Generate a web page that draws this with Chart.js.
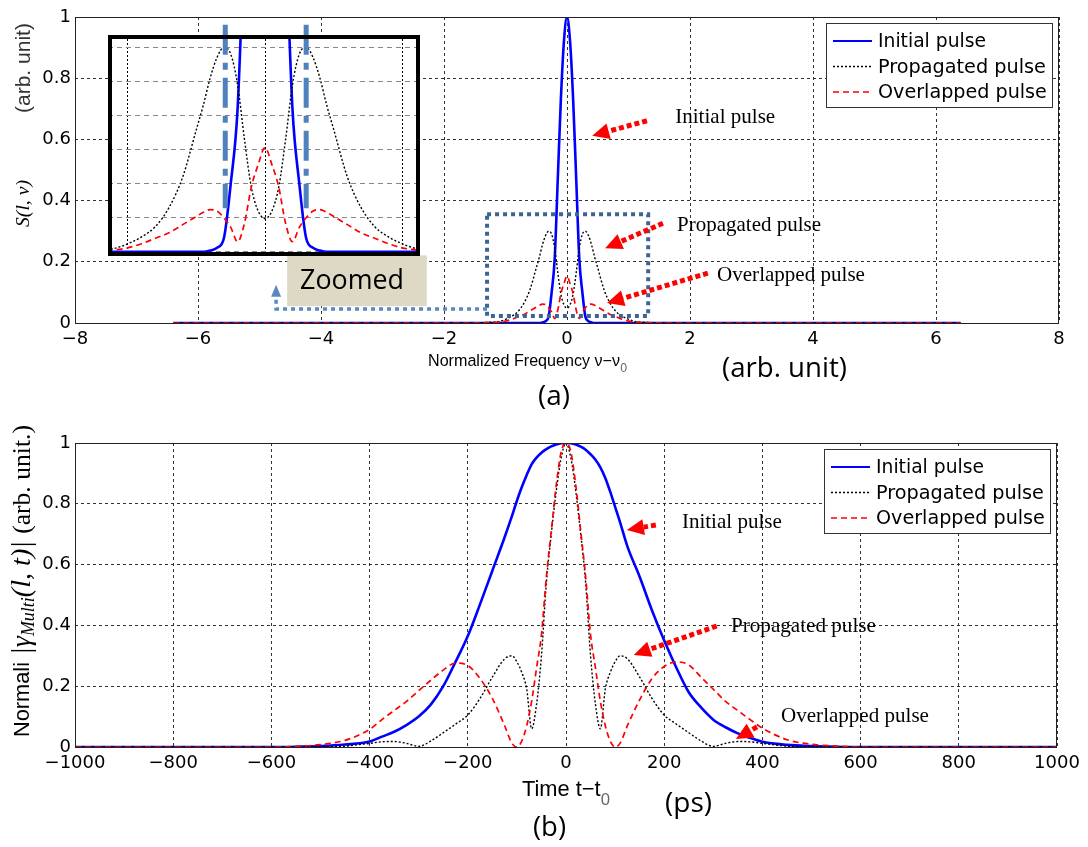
<!DOCTYPE html>
<html>
<head>
<meta charset="utf-8">
<script src="https://cdn.jsdelivr.net/npm/chart.js@4.4.1/dist/chart.umd.min.js"></script>
<style>
  html, body { margin: 0; padding: 0; background: #fff; }
  #page { position: relative; width: 1088px; height: 847px; overflow: hidden; background: #fff; }
  #page canvas { position: absolute; }
  #spectrum { left: 0; top: 0; }
  #inset { left: 104px; top: 23px; }
  #coherence { left: 0; top: 410px; }
</style>
</head>
<body>
<div id="page">
  <canvas id="spectrum" width="1088" height="410"></canvas>
  <canvas id="inset" width="320" height="237"></canvas>
  <canvas id="coherence" width="1088" height="437"></canvas>
</div>
<script>
// ---------- (a) spectrum S(l, nu) ----------
const FREQ = [-6.4, -1.6, -1.3, -1.1, -1.0, -0.9, -0.8, -0.7, -0.6, -0.5, -0.45, -0.4, -0.35, -0.3, -0.25, -0.2, -0.15, -0.1, -0.05,
  0, 0.05, 0.1, 0.15, 0.2, 0.25, 0.3, 0.35, 0.4, 0.45, 0.5, 0.6, 0.7, 0.8, 0.9, 1.0, 1.1, 1.3, 1.6, 6.4];
const S_INITIAL = [0, 0, 0, 0, 0, 0, 0, 0, 0, 0, 0, 0.002, 0.006, 0.02, 0.1, 0.21, 0.47, 0.73, 0.92,
  1, 0.92, 0.73, 0.47, 0.21, 0.1, 0.02, 0.006, 0.002, 0, 0, 0, 0, 0, 0, 0, 0, 0, 0, 0];
const S_PROPAGATED = [0, 0, 0.002, 0.005, 0.012, 0.022, 0.037, 0.065, 0.11, 0.18, 0.215, 0.255, 0.285, 0.3, 0.29, 0.245, 0.165, 0.095, 0.06,
  0.049, 0.06, 0.095, 0.165, 0.245, 0.29, 0.3, 0.285, 0.255, 0.215, 0.18, 0.11, 0.065, 0.037, 0.022, 0.012, 0.005, 0.002, 0, 0];
const S_OVERLAPPED = [0, 0, 0.001, 0.003, 0.006, 0.012, 0.02, 0.028, 0.04, 0.052, 0.058, 0.062, 0.06, 0.05, 0.036, 0.015, 0.042, 0.095, 0.128,
  0.153, 0.128, 0.095, 0.042, 0.015, 0.036, 0.05, 0.06, 0.062, 0.058, 0.052, 0.04, 0.028, 0.02, 0.012, 0.006, 0.003, 0.001, 0, 0];
const FREQ_TICKS = [-8, -6, -4, -2, 0, 2, 4, 6, 8];
const S_TICKS = [0, 0.2, 0.4, 0.6, 0.8, 1];
const INSET_X_GRID = [-1, 0, 1];
const INSET_Y_GRID = [0, 0.05, 0.1, 0.15, 0.2, 0.25, 0.3];

// ---------- (b) normalised coherence |gamma(l, t)| ----------
const TIME_PS = [-1000, -600, -550, -500, -450, -400, -375, -350, -325, -300, -275, -250, -225, -200, -175, -150, -125, -110, -100, -90, -80, -70, -60, -50, -40, -30, -20, -10,
  0, 10, 20, 30, 40, 50, 60, 70, 80, 90, 100, 110, 125, 150, 175, 200, 225, 250, 275, 300, 325, 350, 375, 400, 450, 500, 550, 600, 1000];
const G_INITIAL = [0, 0, 0.001, 0.003, 0.008, 0.018, 0.034, 0.05, 0.072, 0.1, 0.14, 0.2, 0.28, 0.365, 0.47, 0.58, 0.69, 0.76, 0.81, 0.855, 0.895, 0.93, 0.952, 0.968, 0.98, 0.989, 0.995, 0.999,
  1, 0.999, 0.995, 0.988, 0.978, 0.963, 0.945, 0.92, 0.885, 0.84, 0.79, 0.74, 0.66, 0.56, 0.45, 0.35, 0.26, 0.18, 0.13, 0.09, 0.065, 0.045, 0.03, 0.017, 0.007, 0.003, 0.001, 0, 0];
const G_PROPAGATED = [0, 0, 0, 0, 0.003, 0.012, 0.017, 0.018, 0.012, 0.002, 0.02, 0.047, 0.075, 0.105, 0.16, 0.23, 0.29, 0.3, 0.28, 0.245, 0.19, 0.06, 0.14, 0.3, 0.54, 0.7, 0.84, 0.95,
  1, 0.95, 0.84, 0.7, 0.54, 0.3, 0.14, 0.06, 0.19, 0.245, 0.28, 0.3, 0.29, 0.23, 0.16, 0.105, 0.075, 0.047, 0.02, 0.002, 0.012, 0.018, 0.017, 0.012, 0.003, 0, 0, 0, 0];
const G_OVERLAPPED = [0, 0, 0.002, 0.008, 0.022, 0.058, 0.09, 0.12, 0.15, 0.185, 0.22, 0.253, 0.276, 0.268, 0.225, 0.16, 0.07, 0.012, 0, 0.02, 0.07, 0.15, 0.26, 0.37, 0.56, 0.71, 0.86, 0.97,
  1, 0.97, 0.86, 0.71, 0.56, 0.37, 0.26, 0.15, 0.07, 0.02, 0, 0.012, 0.07, 0.155, 0.225, 0.265, 0.28, 0.27, 0.23, 0.19, 0.15, 0.12, 0.09, 0.062, 0.024, 0.009, 0.003, 0, 0];
const TIME_TICKS = [-1000, -800, -600, -400, -200, 0, 200, 400, 600, 800, 1000];
const G_TICKS = [0, 0.2, 0.4, 0.6, 0.8, 1];

const SERIES_NAMES = ['Initial pulse', 'Propagated pulse', 'Overlapped pulse'];
const STYLES = [
  { color: '#0000ff', dash: [], width: 2.6, order: 2 },
  { color: '#000000', dash: [2, 2], width: 1.4, order: 1 },
  { color: '#ff0000', dash: [6, 4], width: 1.7, order: 0 },
];

const SANS = '"DejaVu Sans"';
const ARIAL = '"Liberation Sans"';
const SERIF = '"Liberation Serif"';

function fmtTick(v) {
  const a = Math.round(Math.abs(v) * 10) / 10;
  return (v < 0 ? '\u2212' : '') + a;
}

function makeDatasets(xs, series) {
  return series.map((vals, i) => ({
    label: SERIES_NAMES[i],
    data: xs.map((x, j) => ({ x: x, y: vals[j] })),
    borderColor: STYLES[i].color,
    borderWidth: STYLES[i].width,
    borderDash: STYLES[i].dash,
    order: STYLES[i].order,
    pointRadius: 0,
    fill: false,
    cubicInterpolationMode: 'monotone'
  }));
}

function gridAxis(min, max, tickList, fitSize, horizontal, extra) {
  return Object.assign({
    type: 'linear',
    min: min,
    max: max,
    afterBuildTicks: s => { s.ticks = tickList.map(v => ({ value: v })); },
    afterFit: s => { if (horizontal) s.height = fitSize; else s.width = fitSize; },
    ticks: { font: { family: 'DejaVu Sans', size: 18 }, color: '#000', padding: horizontal ? 6 : 4,
      maxRotation: 0, autoSkip: false, callback: fmtTick },
    grid: { color: '#333', lineWidth: 1, drawTicks: false },
    border: { display: false, dash: [3, 3] }
  }, extra || {});
}

// text runs (mixed fonts), scaled so the whole row spans `width` px
function drawRuns(ctx, runs, x, y, width, angle) {
  ctx.save();
  ctx.translate(x, y);
  ctx.rotate(angle || 0);
  ctx.textBaseline = 'middle';
  ctx.textAlign = 'left';
  let total = 0;
  runs.forEach(r => {
    ctx.font = (r.style || '') + ' ' + r.size + 'px ' + r.family;
    r.w = ctx.measureText(r.text).width;
    total += r.w;
  });
  const k = width / total;
  let cx = 0;
  runs.forEach(r => {
    ctx.font = (r.style || '') + ' ' + (r.size * k) + 'px ' + r.family;
    ctx.fillStyle = r.color || '#000';
    ctx.fillText(r.text, cx, (r.dy || 0) * k);
    cx += r.w * k;
  });
  ctx.restore();
}

function dottedArrow(ctx, x1, y1, x2, y2) {
  const head = 17, half = 8;
  const ang = Math.atan2(y2 - y1, x2 - x1);
  const bx = x2 - Math.cos(ang) * head, by = y2 - Math.sin(ang) * head;
  ctx.save();
  ctx.strokeStyle = '#ff0000';
  ctx.fillStyle = '#ff0000';
  ctx.lineWidth = 5;
  ctx.setLineDash([5, 3]);
  ctx.beginPath(); ctx.moveTo(x1, y1); ctx.lineTo(bx, by); ctx.stroke();
  ctx.setLineDash([]);
  ctx.beginPath();
  ctx.moveTo(x2, y2);
  ctx.lineTo(bx + Math.sin(ang) * half, by - Math.cos(ang) * half);
  ctx.lineTo(bx - Math.sin(ang) * half, by + Math.cos(ang) * half);
  ctx.closePath();
  ctx.fill();
  ctx.restore();
}

function frame(ctx, a) {
  ctx.save();
  ctx.strokeStyle = '#222';
  ctx.lineWidth = 1;
  ctx.strokeRect(a.left + 0.5, a.top + 0.5, a.right - a.left - 1, a.bottom - a.top);
  ctx.restore();
}

function legend(ctx, a) {
  const x = a.right - 233, y = a.top + 6, w = 226, h = 84;
  ctx.save();
  ctx.fillStyle = '#fff';
  ctx.fillRect(x, y, w, h);
  ctx.strokeStyle = '#333';
  ctx.lineWidth = 1;
  ctx.strokeRect(x + 0.5, y + 0.5, w, h);
  SERIES_NAMES.forEach((name, i) => {
    const ry = y + 18 + i * 25.5;
    ctx.strokeStyle = STYLES[i].color;
    ctx.lineWidth = i === 0 ? 2.2 : 1.5;
    ctx.setLineDash(STYLES[i].dash);
    ctx.beginPath(); ctx.moveTo(x + 7, ry); ctx.lineTo(x + 46, ry); ctx.stroke();
    ctx.setLineDash([]);
  });
  ctx.restore();
  SERIES_NAMES.forEach((name, i) => {
    const ry = y + 19 + i * 25.5;
    drawRuns(ctx, [{ text: name, size: 19, family: SANS }], x + 52, ry, [108, 168, 169][i]);
  });
}

function annotate(ctx, x, y, notes) {
  notes.forEach(n => {
    dottedArrow(ctx, x.getPixelForValue(n.from[0]), y.getPixelForValue(n.from[1]),
      x.getPixelForValue(n.to[0]), y.getPixelForValue(n.to[1]));
    drawRuns(ctx, [{ text: n.text, size: 21, family: SERIF }],
      x.getPixelForValue(n.at[0]), y.getPixelForValue(n.at[1]), n.w);
  });
}

const spectrumDecor = {
  id: 'spectrumDecor',
  afterDraw(chart) {
    const { ctx, chartArea: a, scales: { x, y } } = chart;
    frame(ctx, a);

    // dotted marker round the zoomed region, and the connector to the label
    const bx0 = x.getPixelForValue(-1.3), bx1 = x.getPixelForValue(1.32);
    const by0 = y.getPixelForValue(0.355), by1 = y.getPixelForValue(0.023);
    ctx.save();
    ctx.strokeStyle = '#3c6494';
    ctx.lineWidth = 4;
    ctx.setLineDash([4, 4]);
    ctx.strokeRect(bx0, by0, bx1 - bx0, by1 - by0);
    const cy = y.getPixelForValue(0.046), cx = x.getPixelForValue(-4.73);
    const tipY = y.getPixelForValue(0.125);
    ctx.strokeStyle = '#5a88c0';
    ctx.lineWidth = 3.5;
    ctx.beginPath(); ctx.moveTo(bx0, cy); ctx.lineTo(cx, cy); ctx.lineTo(cx, tipY + 11); ctx.stroke();
    ctx.setLineDash([]);
    ctx.fillStyle = '#5a88c0';
    ctx.beginPath(); ctx.moveTo(cx, tipY); ctx.lineTo(cx - 5, tipY + 12); ctx.lineTo(cx + 5, tipY + 12); ctx.closePath(); ctx.fill();
    // "Zoomed" tag
    const zx0 = x.getPixelForValue(-4.55), zx1 = x.getPixelForValue(-2.28);
    const zy0 = y.getPixelForValue(0.221), zy1 = y.getPixelForValue(0.055);
    ctx.fillStyle = '#ddd9c4';
    ctx.fillRect(zx0, zy0, zx1 - zx0, zy1 - zy0);
    ctx.restore();
    drawRuns(ctx, [{ text: 'Zoomed', size: 26, family: '"Open Sans"' }], x.getPixelForValue(-4.34), y.getPixelForValue(0.137), 104);

    annotate(ctx, x, y, [
      { text: 'Initial pulse', from: [1.3, 0.661], to: [0.41, 0.612], at: [1.76, 0.671], w: 100 },
      { text: 'Propagated pulse', from: [1.56, 0.326], to: [0.62, 0.244], at: [1.79, 0.319], w: 144 },
      { text: 'Overlapped pulse', from: [2.29, 0.163], to: [0.65, 0.065], at: [2.44, 0.156], w: 148 }
    ]);
    legend(ctx, a);

    // axis titles
    drawRuns(ctx, [{ text: '(arb. unit)', size: 17, family: ARIAL, color: '#333' }], 24, 113, 90, -Math.PI / 2);
    drawRuns(ctx, [{ text: 'S(l, \u03bd)', size: 23, family: SERIF, style: 'italic' }], 24, 227, 47, -Math.PI / 2);
    drawRuns(ctx, [
      { text: 'Normalized Frequency \u03bd\u2212\u03bd', size: 17, family: ARIAL },
      { text: '0', size: 13, family: ARIAL, dy: 7, color: '#666' }
    ], 428, 362, 199);
    drawRuns(ctx, [{ text: '(arb. unit)', size: 24, family: '"Open Sans"' }], 722, 369, 125);
    drawRuns(ctx, [{ text: '(a)', size: 24, family: '"Open Sans"' }], 538, 397, 32);
  }
};

const insetDecor = {
  id: 'insetDecor',
  beforeDraw(chart) {
    const { ctx, chartArea: a } = chart;
    ctx.save();
    ctx.fillStyle = '#fff';
    ctx.fillRect(a.left, a.top, a.right - a.left, a.bottom - a.top);
    ctx.restore();
  },
  afterDraw(chart) {
    const { ctx, chartArea: a, scales: { x, y } } = chart;
    ctx.save();
    // dash-dot markers at the propagated-pulse peaks
    ctx.strokeStyle = '#4f81bd';
    ctx.lineWidth = 5;
    ctx.setLineDash([30, 8, 7, 8]);
    [-0.29, 0.3].forEach(v => {
      ctx.beginPath();
      ctx.moveTo(x.getPixelForValue(v), y.getPixelForValue(0.333));
      ctx.lineTo(x.getPixelForValue(v), y.getPixelForValue(0.064));
      ctx.stroke();
    });
    ctx.setLineDash([]);
    ctx.strokeStyle = '#000';
    ctx.lineWidth = 4;
    ctx.strokeRect(a.left + 2, a.top + 2, a.right - a.left - 4, a.bottom - a.top - 4);
    ctx.restore();
  }
};

const coherenceDecor = {
  id: 'coherenceDecor',
  afterDraw(chart) {
    const { ctx, chartArea: a, scales: { x, y } } = chart;
    frame(ctx, a);
    annotate(ctx, x, y, [
      { text: 'Initial pulse', from: [183, 0.73], to: [124, 0.714], at: [236, 0.74], w: 100 },
      { text: 'Propagated pulse', from: [307, 0.398], to: [138, 0.303], at: [336, 0.395], w: 145 },
      { text: 'Overlapped pulse', from: [389, 0.066], to: [346, 0.026], at: [438, 0.099], w: 148 }
    ]);
    legend(ctx, a);
    const off = 410;
    drawRuns(ctx, [
      { text: 'Normali', size: 17, family: ARIAL },
      { text: ' |\u03b3', size: 22, family: SERIF, style: 'italic' },
      { text: 'Multi', size: 14, family: SERIF, style: 'italic', dy: 5 },
      { text: '(l, t)| ', size: 22, family: SERIF, style: 'italic' },
      { text: '(arb. unit.)', size: 20, family: SERIF }
    ], 23, 737 - off, 312, -Math.PI / 2);
    drawRuns(ctx, [
      { text: 'Time t\u2212t', size: 17, family: ARIAL },
      { text: '0', size: 13, family: ARIAL, dy: 8, color: '#666' }
    ], 522, 790 - off, 88);
    drawRuns(ctx, [{ text: '(ps)', size: 26, family: '"Open Sans"' }], 665, 804 - off, 47);
    drawRuns(ctx, [{ text: '(b)', size: 24, family: '"Open Sans"' }], 533, 828 - off, 33);
  }
};

const common = {
  responsive: false,
  maintainAspectRatio: false,
  animation: false,
  events: [],
  plugins: { legend: { display: false }, tooltip: { enabled: false } }
};

new Chart(document.getElementById('spectrum'), {
  type: 'line',
  data: { datasets: makeDatasets(FREQ, [S_INITIAL, S_PROPAGATED, S_OVERLAPPED]) },
  options: Object.assign({}, common, {
    layout: { padding: { top: 17, right: 29, left: 0, bottom: 0 } },
    scales: {
      x: gridAxis(-8, 8, FREQ_TICKS, 87, true),
      y: gridAxis(0, 1, S_TICKS, 75, false)
    }
  }),
  plugins: [spectrumDecor]
});

new Chart(document.getElementById('inset'), {
  type: 'line',
  data: { datasets: makeDatasets(FREQ, [S_INITIAL, S_PROPAGATED, S_OVERLAPPED]) },
  options: Object.assign({}, common, {
    layout: { padding: { top: 12, right: 4, left: 4, bottom: 4 } },
    scales: {
      x: gridAxis(-1.145, 1.13, INSET_X_GRID, 0, true, {
        ticks: { display: false },
        grid: { color: '#000', lineWidth: 1, drawTicks: false },
        border: { display: false, dash: [2, 2] }
      }),
      y: gridAxis(-0.006, 0.318, INSET_Y_GRID, 0, false, {
        ticks: { display: false },
        grid: { color: '#888', lineWidth: 1, drawTicks: false },
        border: { display: false, dash: [5, 4] }
      })
    }
  }),
  plugins: [insetDecor]
});

new Chart(document.getElementById('coherence'), {
  type: 'line',
  data: { datasets: makeDatasets(TIME_PS, [G_INITIAL, G_PROPAGATED, G_OVERLAPPED]) },
  options: Object.assign({}, common, {
    layout: { padding: { top: 33, right: 31, left: 0, bottom: 0 } },
    scales: {
      x: gridAxis(-1000, 1000, TIME_TICKS, 100, true),
      y: gridAxis(0, 1, G_TICKS, 75, false)
    }
  }),
  plugins: [coherenceDecor]
});
</script>
</body>
</html>
